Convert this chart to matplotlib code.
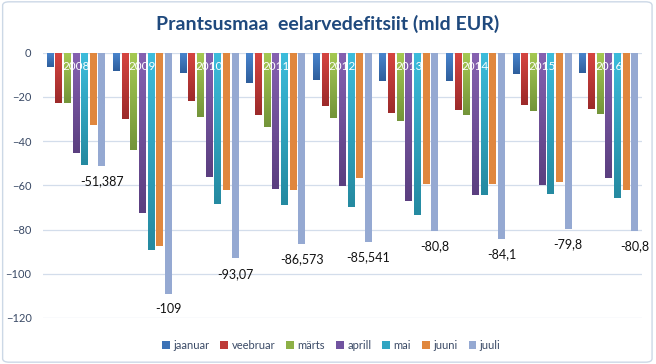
import numpy as np
import matplotlib
matplotlib.use('Agg')
import matplotlib.pyplot as plt
from matplotlib.colors import LinearSegmentedColormap
from matplotlib.patches import FancyBboxPatch, Patch

plt.rcParams['font.family'] = ['Lato', 'DejaVu Sans']

years = ['2008', '2009', '2010', '2011', '2012', '2013', '2014', '2015', '2016']
months = ['jaanuar', 'veebruar', 'märts', 'aprill', 'mai', 'juuni', 'juuli']

jaanuar = [-6.6, -8.3, -9.1, -13.6, -12.3, -12.7, -12.7, -9.5, -9.1]
veebruar = [-22.7, -30.1, -21.8, -28.2, -24.1, -27.3, -25.9, -23.6, -25.5]
marts = [-22.7, -44.2, -29.1, -33.6, -29.5, -30.9, -28.2, -26.4, -27.7]
aprill = [-45.4, -72.4, -56.4, -61.8, -60.5, -67.3, -64.5, -60.0, -56.8]
mai = [-50.6, -89.2, -68.3, -68.8, -70.0, -73.2, -64.5, -64.1, -65.9]
juuni = [-32.9, -87.3, -62.0, -62.0, -56.6, -59.4, -59.5, -58.6, -62.3]
juuli = [-51.387, -109, -93.07, -86.573, -85.541, -80.8, -84.1, -79.8, -80.8]

series = [jaanuar, veebruar, marts, aprill, mai, juuni, juuli]
# (top colour, bottom colour) - Excel style gradient
grad = [('#4A86CF', '#2E5E9C'),
        ('#D64541', '#9C2A2A'),
        ('#A5C952', '#74953A'),
        ('#8561B1', '#5B3F80'),
        ('#3CBCDB', '#258AA1'),
        ('#E0873E', '#E0873E'),
        ('#95A9D2', '#95A9D2')]
legend_cols = ['#3C72B6', '#BE3A38', '#8DB046', '#7153A0', '#31A5C2', '#E0873E', '#95A9D2']

txt_col = '#3A4A66'

fig = plt.figure(figsize=(6.56, 3.64), dpi=100)
ax = fig.add_axes([0.0651, 0.1264, 0.9136, 0.7288])

x = np.arange(len(years))
slot = 0.13
width = 0.105

for j, (vals, (c_top, c_bot)) in enumerate(zip(series, grad)):
    xs = x + (j - 3) * slot
    cmap = LinearSegmentedColormap.from_list('g%d' % j, [c_top, c_bot])
    for xi, v in zip(xs, vals):
        ax.imshow(np.linspace(0, 1, 50).reshape(-1, 1), cmap=cmap, aspect='auto',
                  extent=(xi - width / 2, xi + width / 2, v, 0), zorder=3,
                  interpolation='bilinear')

# year labels inside the groups
for xi, y in zip(x, years):
    ax.text(xi, -6.3, y, color='white', ha='center', va='center', fontsize=8.5, zorder=5)

# value labels under juuli bars
for xi, v in zip(x + 3 * slot, juuli):
    ax.annotate(f'{v:g}'.replace('.', ','), (xi, v), xytext=(0, -11),
                textcoords='offset points', ha='center', va='center',
                fontsize=9, color='#111111', zorder=5)

ax.set_xlim(-0.5, len(years) - 0.5)
ax.set_ylim(-120, 0)
ax.set_yticks(np.arange(-120, 1, 20))
ax.set_xticks([])
ax.grid(axis='y', color='#D3DDEB', lw=0.9, zorder=0)
ax.set_axisbelow(True)
for s in ax.spines.values():
    s.set_visible(False)
ax.tick_params(axis='y', length=0, pad=8, labelsize=8, labelcolor=txt_col)

fig.text(0.5, 0.934, 'Prantsusmaa  eelarvedefitsiit (mld EUR)', ha='center', va='center',
         fontsize=14, fontweight='bold', color='#1F497D')

handles = [Patch(facecolor=c, edgecolor='none') for c in legend_cols]
leg = fig.legend(handles, months, loc='center', bbox_to_anchor=(0.505, 0.052), ncol=7,
                 frameon=False, fontsize=8, handlelength=0.7, handleheight=0.7,
                 handletextpad=0.3, columnspacing=1.0)
for t in leg.get_texts():
    t.set_color(txt_col)

border = FancyBboxPatch((0.004, 0.005), 0.99, 0.99, boxstyle='round,pad=0,rounding_size=0.01',
                        transform=fig.transFigure, facecolor='none', edgecolor='#CCD8E6', lw=1)
fig.patches.append(border)

fig.savefig('out.png', dpi=100)
